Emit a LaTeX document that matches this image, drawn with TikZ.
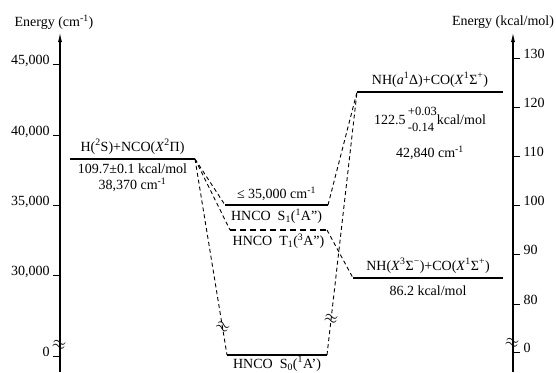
\documentclass[tikz,border=0pt]{standalone}
\usepackage{fontspec}
\setmainfont{Liberation Serif}
\usetikzlibrary{arrows.meta,positioning}

\begin{document}
\begin{tikzpicture}[
  x=1pt, y=-1pt,
  lvl/.style={line width=1.9pt},
  conn/.style={dash pattern=on 4pt off 3pt, line width=0.9pt},
  axisline/.style={line width=1.3pt, -{Latex[length=10pt,width=4pt]}},
  tickmark/.style={line width=1pt},
  txt/.style={font=\fontsize{14}{16}\selectfont, inner sep=1pt},
  brk/.style={font=\fontsize{19}{19}\selectfont, inner sep=0pt},
]
  \useasboundingbox (0,0) rectangle (556,372);

  % axes
  \coordinate (lax-b) at (60,372);
  \coordinate (lax-t) at (60,32);
  \coordinate (rax-b) at (513,372);
  \coordinate (rax-t) at (513,32);
  \draw[axisline] (lax-b) -- (lax-t);
  \draw[axisline] (rax-b) -- (rax-t);
  \node[txt] (lunit) at (54,22) {Energy (cm\textsuperscript{-1})};
  \node[txt] (runit) at (503,22) {Energy (kcal/mol)};

  \foreach \y/\lab [count=\i] in {64.6/{45,000}, 135/{40,000}, 205.4/{35,000}, 275.6/{30,000}, 356/0}
    \draw[tickmark] (53,\y) -- (60,\y) node[txt, anchor=base east, at start, xshift=-2pt] (ltick\i) {\lab};
  \foreach \y/\lab [count=\i] in {58/130, 107.2/120, 156.4/110, 205.6/100, 254.8/90, 304/80, 352/0}
    \draw[tickmark] (513,\y) -- (520,\y) node[txt, anchor=base west, at end, xshift=2pt] (rtick\i) {\lab};
  \node[brk, rotate=-15] (lbrk) at (59,345) {$\approx$};
  \node[brk, rotate=-15] (rbrk) at (512,343) {$\approx$};

  % levels
  \coordinate (hn-l) at (70,159);   \coordinate (hn-r) at (195,159);
  \coordinate (nha-l) at (357,92);  \coordinate (nha-r) at (503,92);
  \coordinate (s1-l) at (225,205);  \coordinate (s1-r) at (328,205);
  \coordinate (t1-l) at (230,230);  \coordinate (t1-r) at (327,230);
  \coordinate (nhx-l) at (353,278); \coordinate (nhx-r) at (503,278);
  \coordinate (s0-l) at (227,355);  \coordinate (s0-r) at (327,355);

  \draw[lvl] (hn-l) -- (hn-r)
    node[midway, above=3pt, txt] (hnlab) {H(\textsuperscript{2}S)+NCO(\textit{X}\textsuperscript{2}Π)}
    node[midway, below=3pt, txt, align=center] (hnval) {109.7±0.1 kcal/mol\\38,370 cm\textsuperscript{-1}};
  \draw[lvl] (nha-l) -- (nha-r)
    node[midway, above=3pt, txt] (nhalab) {NH(\textit{a}\textsuperscript{1}Δ)+CO(\textit{X}\textsuperscript{1}Σ\textsuperscript{+})}
    node[midway, below=10pt, txt] (nhaval) {122.5\,\raisebox{0.3ex}{\fontsize{12.5}{16}\selectfont\begin{tabular}{@{}l@{}}+0.03\\-0.14\end{tabular}}kcal/mol};
  \node[txt, below=7pt of nhaval] (nhacm) {42,840 cm\textsuperscript{-1}};
  \draw[lvl] (s1-l) -- (s1-r)
    node[midway, above=2pt, txt] (s1val) {≤ 35,000 cm\textsuperscript{-1}}
    node[midway, below=2pt, txt] (s1lab) {HNCO\ \ S\textsubscript{1}(\textsuperscript{1}A'')};
  \draw[lvl, dash pattern=on 6pt off 4pt] (t1-l) -- (t1-r)
    node[midway, below=2pt, txt] (t1lab) {HNCO\ \ T\textsubscript{1}(\textsuperscript{3}A'')};
  \draw[lvl] (nhx-l) -- (nhx-r)
    node[midway, above=3pt, txt] (nhxlab) {NH(\textit{X}\textsuperscript{3}Σ\textsuperscript{−})+CO(\textit{X}\textsuperscript{1}Σ\textsuperscript{+})}
    node[midway, below=6pt, txt] (nhxval) {86.2 kcal/mol};
  \draw[lvl] (s0-l) -- (s0-r)
    node[midway, below=0.5pt, txt, inner sep=0pt] (s0lab) {HNCO\ \ S\textsubscript{0}(\textsuperscript{1}A')};

  % correlations
  \draw[conn] (hn-r) -- (s1-l);
  \draw[conn] (hn-r) -- (t1-l);
  \draw[conn] (hn-r) -- (s0-l) node[brk, pos=0.86, rotate=-30] (brk1) {$\approx$};
  \draw[conn] (s1-r) -- (nha-l);
  \draw[conn] (s0-r) -- (nha-l) node[brk, pos=0.135, rotate=-15] (brk2) {$\approx$};
  \draw[conn] (t1-r) -- (nhx-l);
\end{tikzpicture}
\end{document}
